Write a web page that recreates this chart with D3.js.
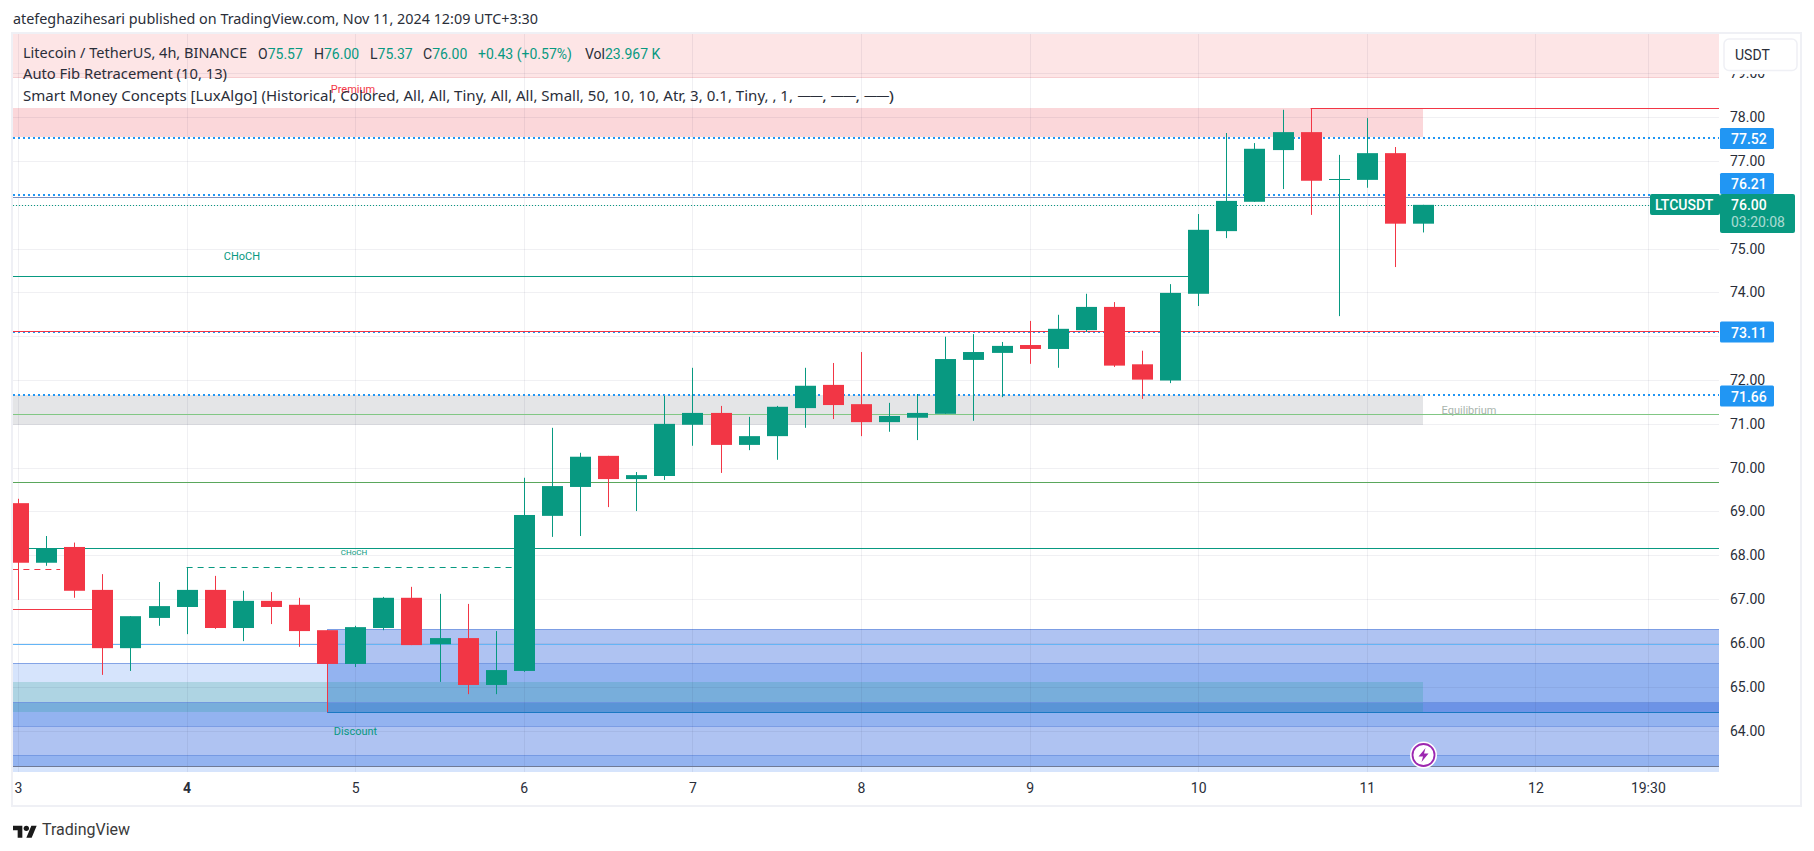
<!DOCTYPE html>
<html><head><meta charset="utf-8">
<style>html,body{margin:0;padding:0;background:#fff;overflow:hidden}svg{display:block}text{font-family:Roboto,"Noto Sans",sans-serif}</style>
<script src="https://cdn.jsdelivr.net/npm/d3@7"></script></head><body><svg id="c" width="1814" height="851"></svg>
<script>
const opens =[69.19,67.83,68.19,67.21,65.88,66.57,66.82,67.21,66.34,66.96,66.87,66.29,65.52,66.34,67.03,65.97,66.11,65.04,65.36,68.90,69.56,70.27,69.74,69.81,70.98,71.25,70.52,70.72,71.36,71.89,71.45,71.04,71.14,71.23,72.46,72.62,72.80,72.71,73.14,73.67,72.36,71.99,73.97,75.40,76.07,77.25,77.66,76.57,76.57,77.18,75.57];
const closes=[67.83,68.16,67.19,65.88,66.61,66.84,67.21,66.34,66.96,66.82,66.27,65.52,66.36,67.03,65.95,66.11,65.04,65.38,68.92,69.58,70.25,69.74,69.83,71.00,71.25,70.52,70.72,71.39,71.87,71.43,71.04,71.18,71.25,72.48,72.64,72.78,72.71,73.17,73.67,72.33,72.01,73.99,75.43,76.09,77.28,77.66,76.55,76.59,77.18,75.57,76.00];
const highs =[69.29,68.44,68.29,67.57,66.61,67.39,67.73,67.53,67.19,67.16,67.03,66.29,66.39,67.05,67.28,67.12,66.89,66.27,69.77,70.91,70.34,70.27,69.90,71.64,72.28,71.41,71.16,71.41,72.28,72.39,72.64,71.48,71.68,72.99,73.05,72.87,73.35,73.49,73.97,73.78,72.67,74.19,75.79,77.64,77.41,78.17,78.20,77.14,77.98,77.32,76.00];
const lows  =[66.98,67.76,67.03,65.27,65.36,66.39,66.20,66.32,66.04,66.43,65.91,64.42,65.45,66.29,65.95,65.11,64.83,64.83,65.34,68.42,68.44,69.10,69.01,69.72,70.50,69.88,70.40,70.18,70.91,71.11,70.72,70.82,70.63,71.23,71.07,71.61,72.37,72.28,73.10,72.30,71.57,71.93,73.69,75.24,76.07,76.36,75.77,73.46,76.39,74.58,75.37];

const gridPrices=[64,65,66,67,68,69,70,71,72,73,74,75,76,77,78,79];
const priceLabels=[64,65,66,67,68,69,70,71,72,74,75,77,78,79];
const dayTicks=[0,6,12,18,24,30,36,42,48,54,58];
const dayLabels=["3","4","5","6","7","8","9","10","11","12","19:30"];
const boldDay="4";

// horizontal levels: price, first bar, last bar, colour, dash
const levelPrice=[78.205,76.18,74.37,73.13,71.22,69.68,68.16,67.73,67.68,66.77,65.97,64.42,63.19];
const levelFrom =[46,-0.2,-0.2,-0.2,-0.2,-0.2,-0.2,6,-0.2,-0.2,-0.2,11,-0.2];
const levelTo   =[61,61,41.9,61,61,61,61,17.6,1.5,3,61,61,61];
const levelColor=["#f23645","#7f8fbf","#089981","#f23645","#81c784","#5aa75c","#089981","#089981","#f23645","#f23645","#64b5f6","#1a78c2","#6f7a96"];
const levelDash =[null,null,null,null,null,null,null,"6 5","6 5",null,null,null,null];
const dottedBlue=[77.52,76.23,73.10,71.66];

// zone rows: upper price, lower price, colour left of bar 11, bar 11-50, right of bar 50
const zoneTop=[66.31,65.53,65.11,64.64,64.42,64.11,63.44,63.19];
const zoneBot=[65.53,65.11,64.64,64.42,64.11,63.44,63.19,63.05];
const zoneLeft=[null,"#d6e4fc","#aed4e3","#78aedb","#93b3f0","#afc3f2","#93b3f0","#d6e4fc"];
const zoneMid =["#afc3f2","#93b3f0","#78aedb","#5a94d6","#93b3f0","#afc3f2","#93b3f0","#d6e4fc"];
const zoneEnd =["#afc3f2","#93b3f0","#93b3f0","#6d93e6","#93b3f0","#afc3f2","#93b3f0","#d6e4fc"];
const zoneEdges=[66.31,65.53,64.64,64.11,63.44];
const zoneEdgeFrom=[11,-0.2,-0.2,-0.2,-0.2];

const svg=d3.select("#c");
const PL=13,PR=1719,PT=34,PB=772;
const x=d3.scaleLinear().domain([0,60.54]).range([18,1719.2]);
const y=d3.scaleLinear().domain([63.053,79.90]).range([772,34]);
const X=v=>Math.round(x(v))+0.5, Y=v=>Math.round(y(v))+0.5;

svg.append("rect").attr("x",12).attr("y",33).attr("width",1789).attr("height",773).attr("fill","#fff").attr("stroke","#eff0f5").attr("stroke-width",2);
const defs=svg.append("defs");
defs.append("clipPath").attr("id","pc").append("rect").attr("x",PL).attr("y",PT).attr("width",PR-PL).attr("height",PB-PT);
const plot=svg.append("g").attr("clip-path","url(#pc)");

// pink + grey zones
function band(p0,p1,i0,i1,fill){const a=Math.round(x(i0)),b=Math.round(x(i1)),t=Math.round(y(p0)),u=Math.round(y(p1));plot.append("rect").attr("x",a).attr("width",b-a).attr("y",t).attr("height",u-t).attr("fill",fill);}
band(79.9,78.91,-0.2,61,"#fde5e6");
band(78.21,77.54,-0.2,50,"#fbd7da");
band(71.65,70.98,-0.2,50,"#e4e5e7");
zoneTop.forEach((t,k)=>{
  if(zoneLeft[k])band(t,zoneBot[k],-0.2,11,zoneLeft[k]);
  band(t,zoneBot[k],11,50,zoneMid[k]);
  band(t,zoneBot[k],50,61,zoneEnd[k]);
});
plot.append("line").attr("x1",PL).attr("x2",PR).attr("y1",Y(78.91)).attr("y2",Y(78.91)).attr("stroke","#f6cdd0");
zoneEdges.forEach((p,k)=>plot.append("line").attr("x1",x(zoneEdgeFrom[k])).attr("x2",PR).attr("y1",Y(p)).attr("y2",Y(p)).attr("stroke","#6f93e0").attr("stroke-opacity",.8));

// grid
plot.selectAll(".hg").data(gridPrices).join("line").attr("x1",PL).attr("x2",PR).attr("y1",d=>Y(d)).attr("y2",d=>Y(d)).attr("stroke","#2a2e50").attr("stroke-opacity",.07);
plot.selectAll(".vg").data(dayTicks).join("line").attr("y1",PT).attr("y2",PB).attr("x1",d=>X(d)).attr("x2",d=>X(d)).attr("stroke","#2a2e50").attr("stroke-opacity",.07);

// dotted fib levels under the solid levels
dottedBlue.forEach(p=>plot.append("line").attr("x1",PL).attr("x2",PR).attr("y1",Math.round(y(p))).attr("y2",Math.round(y(p))).attr("stroke","#2196f3").attr("stroke-width",2).attr("stroke-dasharray","2 3"));
plot.append("line").attr("x1",PL).attr("x2",PR).attr("y1",Y(76)).attr("y2",Y(76)).attr("stroke","#089981").attr("stroke-dasharray","1 2");
levelPrice.forEach((p,k)=>{
  const l=plot.append("line").attr("x1",x(levelFrom[k])).attr("x2",x(levelTo[k])).attr("y1",Y(p)).attr("y2",Y(p)).attr("stroke",levelColor[k]).attr("stroke-width",1);
  if(levelDash[k])l.attr("stroke-dasharray",levelDash[k]);
});

// candles
const W=21;
const cg=plot.append("g").selectAll("g").data(opens).join("g").attr("fill",(d,i)=>closes[i]>=d?"#089981":"#f23645").attr("stroke",(d,i)=>closes[i]>=d?"#089981":"#f23645");
cg.append("line").attr("x1",(d,i)=>X(i)).attr("x2",(d,i)=>X(i)).attr("y1",(d,i)=>y(highs[i])).attr("y2",(d,i)=>y(lows[i]));
cg.append("rect").attr("stroke","none").attr("x",(d,i)=>Math.round(x(i))+0.5-W/2).attr("width",W)
  .attr("y",(d,i)=>Math.min(y(d),y(closes[i]))).attr("height",(d,i)=>Math.max(1,Math.abs(y(d)-y(closes[i]))));

// plot labels
function t(s,px,py,size,fill,anchor,weight,op){const e=svg.append("text").attr("x",px).attr("y",py).attr("font-size",size).attr("fill",fill).attr("dominant-baseline","central").text(s);if(anchor)e.attr("text-anchor",anchor);if(weight)e.attr("font-weight",weight);if(op)e.attr("opacity",op);return e;}
function fit(s,px,py,w){return t(s,px,py-1.2,14,"#2a2e39").style("font-family","'Noto Sans'").attr("textLength",w).attr("lengthAdjust","spacingAndGlyphs");}
t("Premium",353,89,11,"#f23645","middle");
t("Discount",355.5,731,11,"#089981","middle");
t("CHoCH",242,256,11,"#089981","middle");
t("CHoCH",354,552,8,"#089981","middle");
t("Equilibrium",1469,410.5,11,"#a9b5ae","middle");

// lightning marker
const mk=svg.append("g").attr("transform",`translate(${x(50)+0.5},755)`);
mk.append("circle").attr("r",13.5).attr("fill","#fff");
mk.append("circle").attr("r",11).attr("fill","none").attr("stroke","#9c27b0").attr("stroke-width",1.8);
mk.append("path").attr("d","M2,-7 L-5,1.5 L-0.5,1.5 L-2,7 L5,-1.5 L0.5,-1.5 Z").attr("fill","#9c27b0");

// axes
const ax=svg.append("g").attr("transform",`translate(${PR+1},0)`).call(d3.axisRight(y).tickValues(priceLabels).tickSize(0).tickPadding(10).tickFormat(d3.format(".2f")));
ax.select(".domain").remove();
ax.selectAll("text").attr("font-size",14).attr("fill","#2a2e39").style("font-family","Roboto");
const bx=svg.append("g").attr("transform",`translate(0,${PB})`).call(d3.axisBottom(x).tickValues(dayTicks).tickSize(0).tickPadding(11).tickFormat((d,i)=>dayLabels[i]));
bx.select(".domain").remove();
bx.selectAll("text").attr("font-size",14).attr("fill","#2a2e39").style("font-family","Roboto").attr("font-weight",(d,i)=>dayLabels[i]===boldDay?700:400);

// USDT button
svg.append("rect").attr("x",PR+1).attr("y",34).attr("width",80).attr("height",40).attr("fill","#fff");
svg.append("rect").attr("x",1724).attr("y",39).attr("width",73).attr("height",31.5).attr("rx",5).attr("fill","#fff").attr("stroke","#eff0f5").attr("stroke-width",1.5);
t("USDT",1735,55,14,"#2a2e39");

// price badges
const badgePrice=[77.52,76.21,73.11,71.66];
const badgeCentre=[138.5,183.5,332,396];
badgePrice.forEach((p,k)=>{
  const cy=badgeCentre[k];
  svg.append("rect").attr("x",1720).attr("y",cy-10.5).attr("width",54).attr("height",21).attr("rx",1.5).attr("fill","#2196f3");
  t(p.toFixed(2),1731,cy+0.5,14,"#fff",null,500);
});
svg.append("rect").attr("x",1650).attr("y",194).attr("width",70).attr("height",21).attr("rx",2).attr("fill","#089981");
t("LTCUSDT",1655,204.5,14,"#fff",null,500);
svg.append("rect").attr("x",1720).attr("y",194).attr("width",75).attr("height",39).attr("rx",2).attr("fill","#089981");
t("76.00",1731,204.5,14,"#fff",null,500);
t("03:20:08",1731,222,14,"#fff",null,400,.65);

// header and legend
fit("atefeghazihesari published on TradingView.com, Nov 11, 2024 12:09 UTC+3:30",13,20,525);
fit("Litecoin / TetherUS, 4h, BINANCE",23,54,224);
const ohlcLabel=["O","H","L","C"], ohlcValue=["75.57","76.00","75.37","76.00"], ohlcX=[258,314,370,423];
ohlcLabel.forEach((l,k)=>{const e=t("",ohlcX[k],53.5,14,"#2a2e39");e.append("tspan").text(l);e.append("tspan").attr("fill","#089981").text(ohlcValue[k]);});
t("+0.43 (+0.57%)",478,53.5,14,"#089981");
const vol=t("",585,53.5,14,"#2a2e39");vol.append("tspan").text("Vol");vol.append("tspan").attr("fill","#089981").text("23.967 K");
fit("Auto Fib Retracement (10, 13)",23,75,204);
fit("Smart Money Concepts [LuxAlgo] (Historical, Colored, All, All, Tiny, All, All, Small, 50, 10, 10, Atr, 3, 0.1, Tiny, , 1,",23,97,770);
fit("──, ──, ──)",798,97,96);

// logo
const lg=svg.append("g").attr("transform","translate(13,823) scale(0.667)").attr("fill","#1a1a1a");
lg.append("path").attr("d","M14 22H7V11H0V4h14v18zM28 22h-8l7.5-18h8L28 22z");
lg.append("circle").attr("cx",20).attr("cy",8).attr("r",4);
t("TradingView",42,829,16,"#3a3a3a");
</script></body></html>
